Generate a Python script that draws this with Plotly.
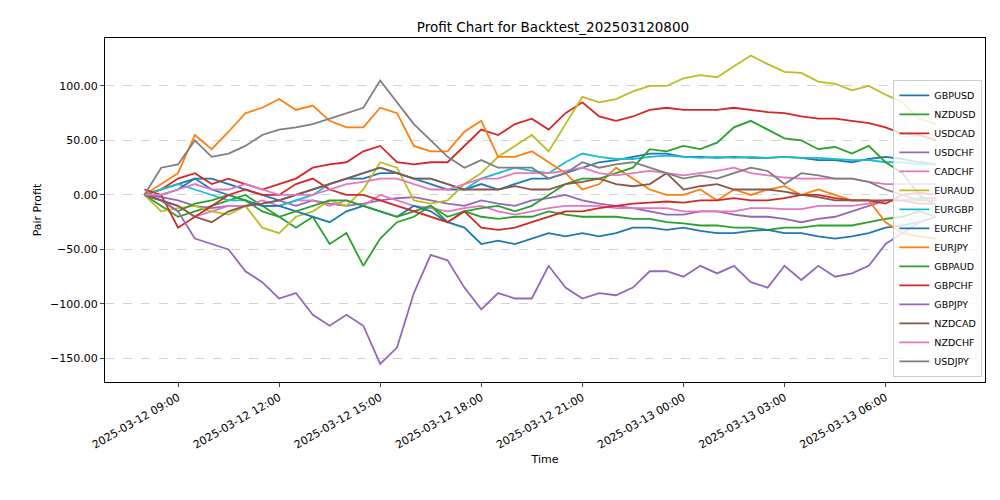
import pandas as pd
import plotly.graph_objects as go

times = pd.date_range("2025-03-12 08:00", periods=48, freq="30min")

pairs = ["GBPUSD", "NZDUSD", "USDCAD", "USDCHF", "CADCHF", "EURAUD", "EURGBP", "EURCHF",
         "EURJPY", "GBPAUD", "GBPCHF", "GBPJPY", "NZDCAD", "NZDCHF", "USDJPY"]

GBPUSD = [0, 5, 10, 15, 15, 10, 5, 0, -5, 0, 5, 10, 15, 15, 20, 20, 15, 10, 5, 5, 10, 5, 10, 15,
          15, 20, 25, 30, 32, 35, 38, 38, 35, 35, 34, 35, 34, 34, 35, 34, 32, 32, 30, 33, 35, 33, 30, 28]
NZDUSD = [0, -10, -20, -15, -10, -5, 0, -10, -20, -30, -20, -45, -35, -65, -40, -25, -20, -10, -25, -15, -20, -22, -20, -20,
          -15, -18, -20, -20, -20, -22, -22, -25, -26, -28, -28, -30, -30, -32, -30, -30, -28, -28, -28, -25, -22, -20, -15, -20]
USDCAD = [0, 5, 15, 20, 10, 15, 10, 5, 10, 15, 25, 28, 30, 40, 45, 30, 28, 30, 30, 45, 60, 55, 65, 70,
          60, 75, 85, 72, 68, 72, 78, 80, 78, 78, 78, 80, 78, 76, 75, 72, 70, 70, 68, 66, 62, 56, 55, 50]
USDCHF = [0, -2, -5, -10, -12, -10, -10, -8, -5, -10, -5, -8, -10, -8, -5, -3, -2, -5, -8, -10, -5, -8, -10, -5,
          -3, 0, -5, -8, -10, -12, -15, -18, -18, -15, -15, -18, -20, -20, -22, -25, -22, -20, -15, -10, -5, -5, -3, -3]
CADCHF = [0, -5, -10, -20, -15, -10, -10, -5, -10, -5, -5, -10, -5, -10, 0, -5, -10, -12, -15, -12, -10, -15, -18, -15,
          -12, -10, -10, -10, -12, -12, -12, -12, -15, -15, -15, -15, -12, -12, -13, -13, -10, -10, -10, -8, -5, -5, -5, -5]
EURAUD = [0, -15, -12, -10, -15, -18, -10, -30, -35, -20, -15, -5, -10, 5, 30, 25, -5, -8, -5, 10, 20, 35, 45, 55,
          40, 65, 90, 85, 88, 95, 100, 100, 107, 110, 108, 118, 128, 120, 113, 112, 104, 102, 96, 100, 92, 85, 70, 65]
EURGBP = [0, 5, 10, 5, 0, -5, -5, -10, -10, -5, 0, 10, 15, 20, 25, 20, 15, 15, 10, 5, 15, 20, 25, 22,
          20, 30, 38, 35, 33, 33, 35, 36, 35, 34, 35, 34, 35, 34, 35, 34, 34, 33, 32, 32, 30, 30, 28, 28]
EURCHF = [0, 0, 5, 15, 5, 0, -5, -10, -10, -15, -20, -25, -15, -10, -15, -20, -10, -15, -25, -30, -45, -42, -45, -40,
          -35, -38, -35, -38, -35, -30, -30, -32, -30, -33, -35, -35, -33, -32, -35, -35, -38, -40, -38, -35, -30, -28, -25, -20]
EURJPY = [0, 10, 20, 55, 42, 58, 75, 80, 88, 78, 82, 68, 62, 62, 80, 75, 45, 40, 40, 58, 68, 35, 35, 40,
          30, 20, 5, 10, 25, 15, 5, 0, 0, 5, -5, 5, 0, 5, 8, 0, 5, 0, -5, -5, -25, -35, -38, -40]
GBPAUD = [0, -5, -15, -8, -5, 0, -5, -15, -20, -15, -10, -5, -5, -10, -15, -20, -15, -10, -20, -15, -12, -10, -15, -10,
          0, 10, 15, 15, 20, 25, 42, 40, 45, 42, 48, 62, 68, 60, 52, 50, 42, 44, 38, 45, 30, 20, 0, -10]
GBPCHF = [5, 0, -30, -20, -10, 0, 5, 0, 0, 10, 15, 5, 0, 0, -5, -10, -15, -20, -25, -15, -30, -32, -30, -25,
          -20, -15, -15, -12, -10, -8, -7, -6, -7, -5, -5, -3, -5, -5, -3, 0, 0, -3, -5, -5, -8, 0, 2, 0]
GBPJPY = [0, -5, -15, -40, -45, -50, -70, -80, -95, -90, -110, -120, -110, -120, -155, -140, -90, -55, -60, -85, -105, -90, -95, -95,
          -65, -85, -95, -90, -92, -85, -70, -70, -75, -65, -72, -65, -80, -85, -65, -78, -65, -75, -72, -65, -45, -35, -25, -20]
NZDCAD = [0, -5, -10, -20, -25, -15, -10, -8, -5, 0, 5, 10, 15, 20, 25, 20, 15, 15, 10, 5, 5, 5, 8, 5,
          5, 10, 12, 15, 10, 8, 10, 20, 5, 8, 10, 5, 5, 5, 3, 0, -2, -5, -5, -5, -5, -5, -8, -8]
NZDCHF = [0, 0, 5, 10, 5, 5, 10, 5, 0, 0, 0, 5, 10, 12, 15, 15, 10, 5, 5, 10, 15, 15, 20, 20,
          20, 22, 25, 20, 18, 20, 22, 20, 18, 20, 22, 25, 20, 18, 16, 15, 15, 15, 15, 12, 10, 10, 10, 10]
USDJPY = [0, 25, 28, 50, 35, 38, 45, 55, 60, 62, 65, 70, 75, 80, 105, 85, 65, 50, 35, 25, 32, 25, 25, 25,
          15, 20, 30, 25, 28, 30, 25, 20, 15, 18, 15, 20, 25, 22, 10, 20, 18, 15, 15, 12, 5, 0, -5, -5]

series = [GBPUSD, NZDUSD, USDCAD, USDCHF, CADCHF, EURAUD, EURGBP, EURCHF,
          EURJPY, GBPAUD, GBPCHF, GBPJPY, NZDCAD, NZDCHF, USDJPY]
colors = ["#1f77b4", "#2ca02c", "#d62728", "#9467bd", "#e377c2", "#bcbd22", "#17becf", "#1f77b4",
          "#ff7f0e", "#2ca02c", "#d62728", "#9467bd", "#8c564b", "#e377c2", "#7f7f7f"]

fig = go.Figure()
for name, vals, c in zip(pairs, series, colors):
    assert len(vals) == len(times), name
    fig.add_trace(go.Scatter(x=times, y=vals, mode="lines", name=name,
                             line=dict(color=c, width=1.8)))

# page body has an 8px margin, so margins are shifted to compensate
fig.update_layout(
    width=1000, height=500,
    margin=dict(l=97, r=23, t=30, b=126),
    paper_bgcolor="white", plot_bgcolor="white",
    font=dict(family="DejaVu Sans", size=10, color="black"),
    title=dict(text="Profit Chart for Backtest_202503120800", x=0.545, xanchor="center",
               y=0.97, font=dict(size=13.5)),
    legend=dict(x=0.997, y=0.015, xanchor="right", yanchor="bottom",
                bgcolor="rgba(255,255,255,0.8)", bordercolor="#cccccc", borderwidth=1,
                font=dict(size=9.5), tracegroupgap=0, itemwidth=30),
    showlegend=True,
)
fig.update_xaxes(
    title=dict(text="Time", standoff=4, font=dict(size=11)),
    range=["2025-03-12 06:50", "2025-03-13 08:57"],
    tickvals=pd.date_range("2025-03-12 09:00", periods=8, freq="3h"),
    tickformat="%Y-%m-%d %H:%M", tickangle=-30, automargin=False,
    showgrid=False, showline=True, linecolor="black", mirror=True,
    ticks="outside", ticklen=4, zeroline=False, tickfont=dict(size=11),
)
fig.update_yaxes(
    title=dict(text="Pair Profit", standoff=6, font=dict(size=11)),
    range=[-171.6, 144], dtick=50, tickformat=".2f", automargin=False,
    showgrid=True, gridcolor="#d3d3d3", griddash="dash",
    showline=True, linecolor="black", mirror=True,
    ticks="outside", ticklen=4, zeroline=False, tickfont=dict(size=11),
)

fig.write_html("out.html")
